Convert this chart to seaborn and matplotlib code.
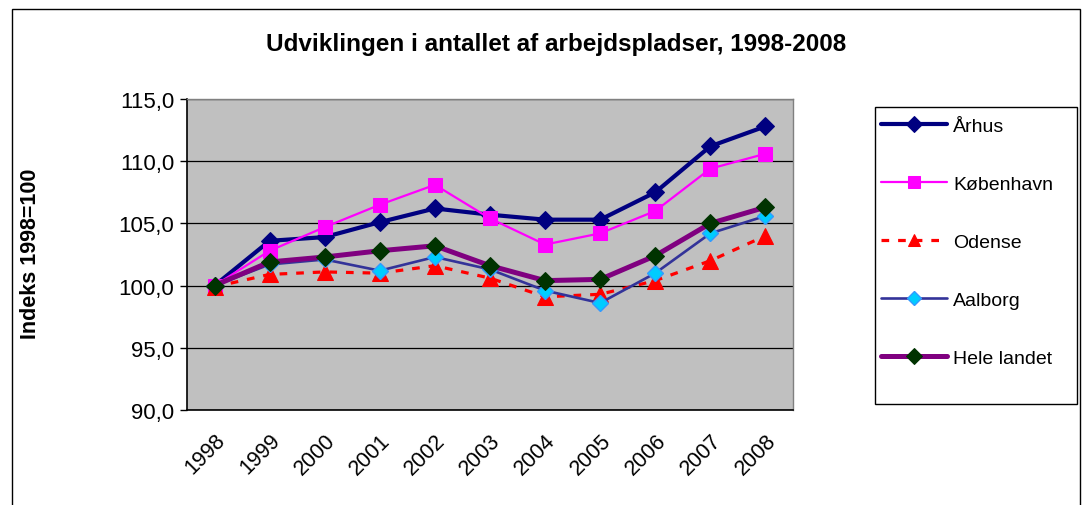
import matplotlib
matplotlib.use("Agg")
import matplotlib.pyplot as plt
import matplotlib.patches as mpatches
import seaborn as sns
import pandas as pd

# data
years = ["1998", "1999", "2000", "2001", "2002", "2003", "2004", "2005", "2006", "2007", "2008"]
aarhus = [100.0, 103.6, 103.9, 105.1, 106.2, 105.7, 105.3, 105.3, 107.5, 111.2, 112.8]
kobenhavn = [100.0, 102.8, 104.7, 106.5, 108.1, 105.4, 103.3, 104.2, 106.0, 109.4, 110.6]
odense = [99.9, 100.9, 101.1, 101.0, 101.6, 100.6, 99.1, 99.3, 100.4, 102.0, 104.0]
aalborg = [100.0, 101.7, 102.1, 101.2, 102.3, 101.3, 99.6, 98.6, 101.0, 104.2, 105.6]
hele_landet = [100.0, 101.9, 102.3, 102.8, 103.2, 101.6, 100.4, 100.5, 102.4, 105.0, 106.3]

sns.set_style("white")
plt.rcParams["font.family"] = ["Liberation Sans", "DejaVu Sans"]
plt.rcParams["text.color"] = "black"
plt.rcParams["xtick.color"] = "black"
plt.rcParams["ytick.color"] = "black"

fig = plt.figure(figsize=(10.82, 5.06), dpi=100)
W, H = 1082, 506
ax = fig.add_axes([187 / W, 1 - 411 / H, (793 - 187) / W, (411 - 100) / H])
ax.set_facecolor("#C0C0C0")

df = pd.DataFrame({"year": years, "Århus": aarhus, "København": kobenhavn,
                   "Odense": odense, "Aalborg": aalborg, "Hele landet": hele_landet})

styles = {
    "Århus": dict(color="#000080", linewidth=3.0, marker="D", markersize=9.5,
                  markerfacecolor="#000080", markeredgecolor="#000080"),
    "København": dict(color="#FF00FF", linewidth=1.6, marker="s", markersize=10,
                      markerfacecolor="#FF00FF", markeredgecolor="#FF00FF"),
    "Odense": dict(color="#FF0000", linewidth=2.3, linestyle=(0, (2.4, 2.8)), marker="^",
                   markersize=11, markerfacecolor="#FF0000", markeredgecolor="#FF0000"),
    "Aalborg": dict(color="#333399", linewidth=1.9, marker="D", markersize=8,
                    markerfacecolor="#00CCFF", markeredgecolor="#3399FF", markeredgewidth=1.0),
    "Hele landet": dict(color="#800080", linewidth=3.6, marker="D", markersize=9.5,
                        markerfacecolor="#003300", markeredgecolor="#003300"),
}

for name, st in styles.items():
    sns.lineplot(data=df, x="year", y=name, ax=ax, label=name, errorbar=None,
                 sort=False, zorder=3, **st)

ax.set_xlim(-0.5, len(years) - 0.5)
ax.set_ylim(90, 115)
ax.set_yticks([90, 95, 100, 105, 110, 115])
ax.set_yticklabels(["90,0", "95,0", "100,0", "105,0", "110,0", "115,0"], fontsize=16)
ax.yaxis.grid(True, color="#000000", linewidth=0.9)
ax.set_axisbelow(True)

ax.set_xticks(range(len(years)))
ax.set_xticklabels(years, fontsize=15.5, rotation=45, ha="right", rotation_mode="anchor")
ax.set_xticks([i - 0.5 for i in range(len(years) + 1)], minor=True)
ax.tick_params(axis="x", which="major", length=0, pad=14)
ax.tick_params(axis="x", which="minor", length=5, width=1, color="black", direction="out")
ax.tick_params(axis="y", length=5, width=1, color="black", direction="out", pad=4, left=True)

ax.set_xlabel("")
ax.set_ylabel("")
for s in ["left", "bottom"]:
    ax.spines[s].set_color("black")
    ax.spines[s].set_linewidth(1.2)
for s in ["top", "right"]:
    ax.spines[s].set_color("#808080")
    ax.spines[s].set_linewidth(1.0)

fig.text(556 / W, 1 - 45 / H, "Udviklingen i antallet af arbejdspladser, 1998-2008",
         ha="center", va="center", fontsize=17.5, fontweight="bold")
fig.text(31 / W, 1 - 254 / H, "Indeks 1998=100", ha="center", va="center",
         rotation=90, fontsize=15.5, fontweight="bold")

# legend
handles, labels = ax.get_legend_handles_labels()
ax.get_legend().remove()
fig.patches.append(mpatches.Rectangle((875 / W, 1 - 405 / H), (1077 - 875) / W, (405 - 108) / H,
                                      transform=fig.transFigure, fill=False,
                                      edgecolor="black", linewidth=1.0))
fig.legend(handles, labels, loc="upper left", bbox_to_anchor=(881 / W, 1 - 118 / H),
           frameon=False, fontsize=14, labelspacing=2.08, handlelength=3.4,
           handletextpad=0.3, borderaxespad=0, borderpad=0, markerscale=0.85)

# outer chart border
fig.patches.append(mpatches.Rectangle((12 / W, -0.02), (1080 - 12) / W, 1.02 - 10 / H,
                                      transform=fig.transFigure, fill=False,
                                      edgecolor="black", linewidth=1.0))

fig.savefig("out.png", dpi=100)
